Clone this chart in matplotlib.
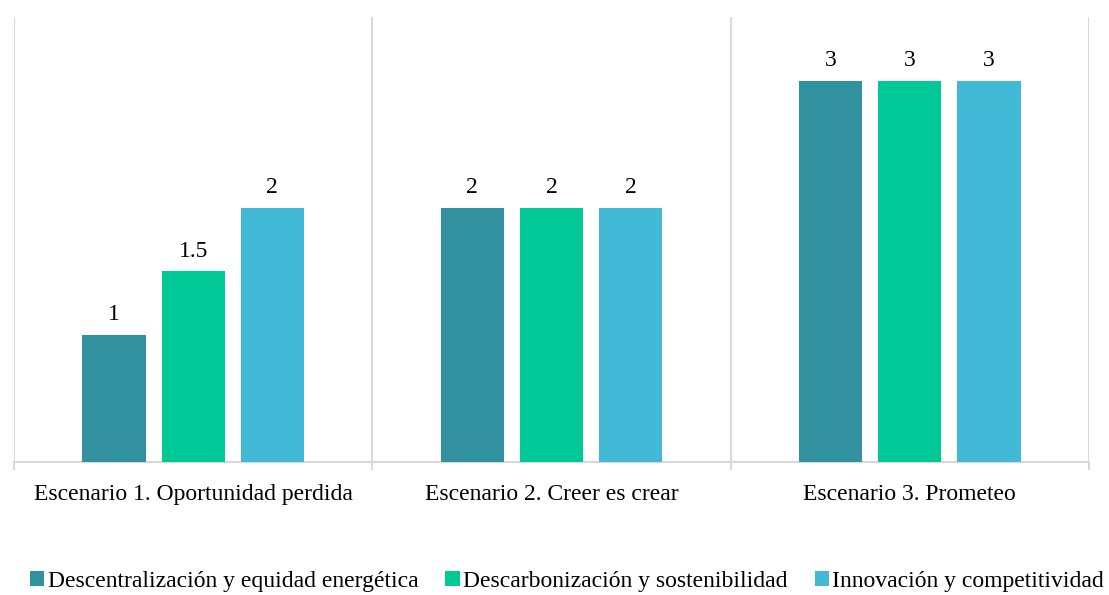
import matplotlib
matplotlib.use("Agg")
import matplotlib.pyplot as plt
import numpy as np

categories = ["Escenario 1. Oportunidad perdida", "Escenario 2. Creer es crear", "Escenario 3. Prometeo"]
series_names = ["Descentralización y equidad energética",
                "Descarbonización y sostenibilidad",
                "Innovación y competitividad"]
descentralizacion = [1, 2, 3]
descarbonizacion = [1.5, 2, 3]
innovacion = [2, 2, 3]
colors = ["#32919E", "#00C896", "#42B9D6"]

plt.rcParams['font.family'] = ['Liberation Serif', 'DejaVu Serif']

fig = plt.figure(figsize=(11.09, 5.95), dpi=100)
W, H = 1109, 595
ax = fig.add_axes([14 / W, 1 - 462 / H, (1089 - 14) / W, (462 - 17) / H])

x = np.arange(len(categories))
width = 0.176
offset = 0.221
grid_col = "#D9D9D9"
fs = 17

for i, (vals, name, col) in enumerate(zip([descentralizacion, descarbonizacion, innovacion], series_names, colors)):
    bars = ax.bar(x + (i - 1) * offset, vals, width, color=col, label=name, zorder=3)
    for b, v in zip(bars, vals):
        ax.annotate(f"{v:g}", (b.get_x() + b.get_width() / 2, v), xytext=(0, 7),
                    textcoords="offset points", ha="center", va="bottom", fontsize=fs, color="#000000")

ax.set_xlim(-0.5, len(categories) - 0.5)
ax.set_ylim(0, 3.5)

# category separators
for bx in np.arange(-0.5, len(categories), 1.0):
    ax.axvline(bx, color=grid_col, lw=1.5, zorder=1)

ax.set_xticks(np.arange(-0.5, len(categories), 1.0))
ax.set_xticklabels([])
ax.set_xticks(x, minor=True)
ax.set_xticklabels(categories, minor=True, fontsize=fs)
ax.tick_params(axis="x", which="major", length=6, width=1.5, color=grid_col)
ax.tick_params(axis="x", which="minor", length=0, pad=15.5)
ax.set_yticks([])

for s in ["top", "right", "left"]:
    ax.spines[s].set_visible(False)
ax.spines["bottom"].set_color(grid_col)
ax.spines["bottom"].set_linewidth(1.5)

fig.legend(loc="center", bbox_to_anchor=(567 / W, 1 - 581 / H), ncol=3, frameon=False,
           fontsize=fs, handlelength=0.6, handleheight=0.6, handletextpad=0.15,
           columnspacing=1.15)

fig.savefig("out.png", dpi=100)
